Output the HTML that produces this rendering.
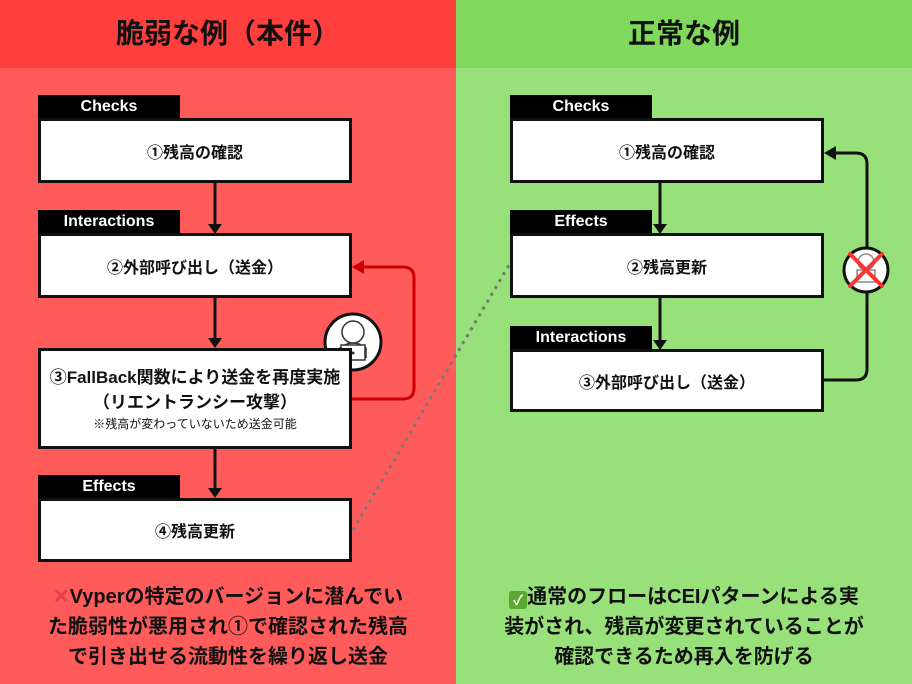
<!DOCTYPE html>
<html><head><meta charset="utf-8"><style>
*{margin:0;padding:0;box-sizing:border-box}
body{width:912px;height:684px;position:relative;overflow:hidden;font-family:"Liberation Sans","Noto Sans CJK JP",sans-serif;font-weight:bold;color:#111}
.a{position:absolute}
.box{position:absolute;background:#fff;border:3px solid #111;display:flex;flex-direction:column;align-items:center;justify-content:center;font-size:16px;text-align:center}
.tab{position:absolute;background:#000;color:#fff;font-size:16px;height:25px;line-height:24px;text-align:center;width:142px}
.h{font-size:28px;text-align:center;line-height:68px;top:0;height:68px;width:456px}
.foot{font-size:20px;text-align:center;width:456px;line-height:30px;top:582px}
</style></head><body>
<div class="a" style="left:0;top:0;width:456px;height:68px;background:#ff3e3e"></div>
<div class="a" style="left:0;top:68px;width:456px;height:616px;background:#ff5b5b"></div>
<div class="a" style="left:456px;top:0;width:456px;height:68px;background:#80d95c"></div>
<div class="a" style="left:456px;top:68px;width:456px;height:616px;background:#98e07a"></div>
<div class="a h" style="left:0">脆弱な例（本件）</div>
<div class="a h" style="left:456px">正常な例</div>

<svg class="a" style="left:0;top:0" width="912" height="684">
<g stroke="#111" stroke-width="3">
<line x1="215" y1="183" x2="215" y2="226"/><path d="M208,224 L222,224 L215,234z" fill="#111" stroke="none"/>
<line x1="215" y1="298" x2="215" y2="339"/><path d="M208,338 L222,338 L215,348z" fill="#111" stroke="none"/>
<line x1="215" y1="449" x2="215" y2="490"/><path d="M208,488 L222,488 L215,498z" fill="#111" stroke="none"/>
<line x1="660" y1="183" x2="660" y2="226"/><path d="M653,224 L667,224 L660,234z" fill="#111" stroke="none"/>
<line x1="660" y1="298" x2="660" y2="341"/><path d="M653,340 L667,340 L660,350z" fill="#111" stroke="none"/>
</g>
<path d="M352,399 L403,399 Q414,399 414,388 L414,278 Q414,267 403,267 L360,267" fill="none" stroke="#cc0000" stroke-width="3"/>
<path d="M352,267 L364,260 L364,274z" fill="#cc0000"/>
<path d="M824,380 L856,380 Q867,380 867,369 L867,164 Q867,153 856,153 L832,153" fill="none" stroke="#111" stroke-width="3"/>
<path d="M824,153 L836,146 L836,160z" fill="#111"/>
<line x1="353" y1="530" x2="509" y2="265" stroke="#777" stroke-width="3" stroke-dasharray="3,5"/>
<circle cx="353" cy="342" r="28" fill="#fff" stroke="#111" stroke-width="3"/>
<g fill="none" stroke="#333" stroke-width="1.5"><circle cx="353" cy="332" r="11"/><path d="M340,358 L340,348 Q353,338 366,348 L366,358"/><rect x="341" y="345" width="24" height="15" fill="#fff"/></g>
<circle cx="353" cy="353" r="1.5" fill="#333"/>
<circle cx="866" cy="270" r="22" fill="#fff" stroke="#111" stroke-width="3"/>
<g fill="none" stroke="#888" stroke-width="1.5"><circle cx="866" cy="262" r="8"/><rect x="857" y="270" width="18" height="12"/></g>
<path d="M850,254 L882,286 M882,254 L850,286" stroke="#ff3333" stroke-width="4" stroke-linecap="round"/>
</svg>

<div class="tab" style="left:38px;top:95px">Checks</div>
<div class="box" style="left:38px;top:118px;width:314px;height:65px">①残高の確認</div>
<div class="tab" style="left:38px;top:210px">Interactions</div>
<div class="box" style="left:38px;top:233px;width:314px;height:65px">②外部呼び出し（送金）</div>
<div class="box" style="left:38px;top:348px;width:314px;height:101px;line-height:25px;font-size:17px">③FallBack関数により送金を再度実施<br>（リエントランシー攻撃）<span style="font-size:12px;font-weight:normal;line-height:18px">※残高が変わっていないため送金可能</span></div>
<div class="tab" style="left:38px;top:475px">Effects</div>
<div class="box" style="left:38px;top:498px;width:314px;height:64px">④残高更新</div>

<div class="tab" style="left:510px;top:95px">Checks</div>
<div class="box" style="left:510px;top:118px;width:314px;height:65px">①残高の確認</div>
<div class="tab" style="left:510px;top:210px">Effects</div>
<div class="box" style="left:510px;top:233px;width:314px;height:65px">②残高更新</div>
<div class="tab" style="left:510px;top:326px">Interactions</div>
<div class="box" style="left:510px;top:349px;width:314px;height:63px">③外部呼び出し（送金）</div>

<div class="a foot" style="left:0"><span style="color:#e0404a">✕</span>Vyperの特定のバージョンに潜んでい<br>た脆弱性が悪用され①で確認された残高<br>で引き出せる流動性を繰り返し送金</div>
<div class="a foot" style="left:456px"><span style="display:inline-block;width:18px;height:18px;background:#5aa832;color:#fff;font-size:14px;line-height:18px;border-radius:3px;vertical-align:-2px">✓</span>通常のフローはCEIパターンによる実<br>装がされ、残高が変更されていることが<br>確認できるため再入を防げる</div>
</body></html>
